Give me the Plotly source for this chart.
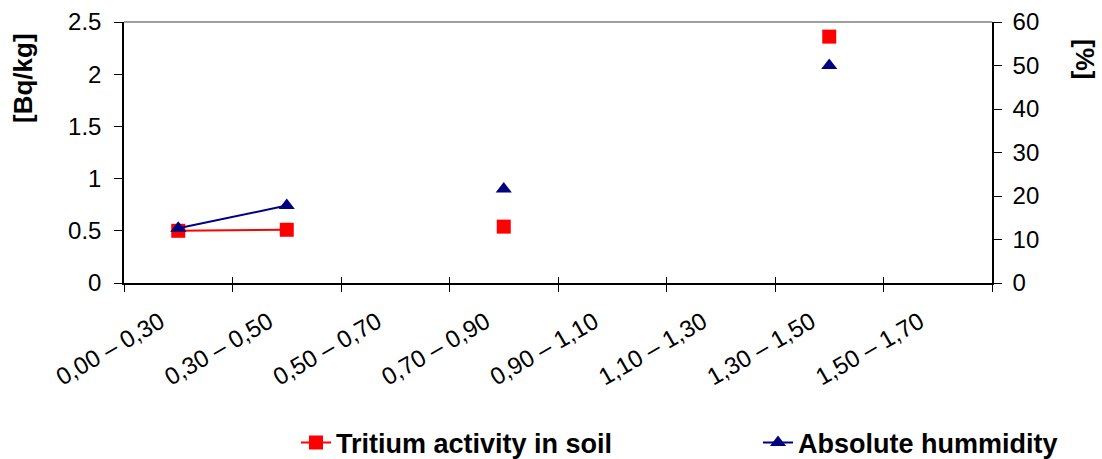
import plotly.graph_objects as go

# Depth intervals (m)
depths = ["0,00 – 0,30", "0,30 – 0,50", "0,50 – 0,70", "0,70 – 0,90",
          "0,90 – 1,10", "1,10 – 1,30", "1,30 – 1,50", "1,50 – 1,70"]

# Tritium activity in soil [Bq/kg]
tritium = [0.50, 0.51, None, 0.54, None, None, 2.36, None]

# Absolute humidity [%]
humidity = [12.6, 17.8, None, 21.6, None, None, 50.0, None]

left_ticks = [0, 0.5, 1, 1.5, 2, 2.5]
left_labels = ["0", "0.5", "1", "1.5", "2", "2.5"]
right_ticks = [0, 10, 20, 30, 40, 50, 60]

FONT = "Liberation Sans, Arial, sans-serif"
RED = "#FF0000"
NAVY = "#000080"

# plot area in pixels
L, R, T, B = 124, 992, 22, 283
W, H = R - L, B - T

n = len(depths)
boundaries = [i - 0.5 for i in range(n + 1)]

fig = go.Figure()

fig.add_trace(go.Scatter(
    x=depths, y=tritium, name="Tritium activity in soil",
    mode="lines+markers", connectgaps=False, legend="legend",
    line=dict(color=RED, width=2),
    marker=dict(symbol="square", size=14, color=RED),
))

fig.add_trace(go.Scatter(
    x=depths, y=humidity, name="Absolute hummidity",
    mode="lines+markers", connectgaps=False, yaxis="y2", legend="legend2",
    line=dict(color=NAVY, width=2),
    marker=dict(symbol="triangle-up", size=14, color=NAVY),
))

# empty trace carrying the overlay axis (inner half of crossing ticks)
fig.add_trace(go.Scatter(
    x=list(range(n)), y=[None] * n, xaxis="x2", mode="markers",
    showlegend=False, hoverinfo="skip",
))

axis_font = dict(family=FONT, size=24, color="black")
legend_font = dict(family=FONT, size=27, color="black", weight="bold")

fig.update_layout(
    width=1102, height=459,
    margin=dict(l=L, r=1102 - R, t=T, b=459 - B, autoexpand=False),
    paper_bgcolor="white", plot_bgcolor="white",
    font=dict(family=FONT, color="black"),
    showlegend=True,
    legend=dict(
        orientation="h", x=(296 - L) / W, xanchor="left",
        y=(B - 443) / H, yanchor="middle",
        font=legend_font, bgcolor="rgba(0,0,0,0)",
    ),
    legend2=dict(
        orientation="h", x=(758 - L) / W, xanchor="left",
        y=(B - 443) / H, yanchor="middle",
        font=legend_font, bgcolor="rgba(0,0,0,0)",
    ),
    xaxis=dict(
        type="category", categoryorder="array", categoryarray=depths,
        range=[-0.5, n - 0.5], tickson="boundaries", automargin=False,
        showline=True, linecolor="black", linewidth=1.5,
        ticks="outside", ticklen=7, tickcolor="black", tickwidth=1,
        tickangle=-30, tickfont=axis_font, ticklabelstandoff=14,
        ticklabelshift=-18, showgrid=False, zeroline=False,
    ),
    xaxis2=dict(
        type="linear", range=[-0.5, n - 0.5], tickvals=boundaries,
        automargin=False, overlaying="x", anchor="y", side="bottom",
        showline=False, ticks="inside", ticklen=6, tickcolor="black", tickwidth=1,
        showticklabels=False, showgrid=False, zeroline=False,
    ),
    yaxis=dict(
        range=[0, 2.5], tickvals=left_ticks, ticktext=left_labels, automargin=False,
        showline=True, linecolor="black", linewidth=1.5,
        ticks="outside", ticklen=8, tickcolor="black",
        tickfont=axis_font, ticklabelstandoff=8,
        showgrid=False, zeroline=False,
    ),
    yaxis2=dict(
        range=[0, 60], tickvals=right_ticks, overlaying="y", side="right",
        automargin=False,
        showline=True, linecolor="black", linewidth=1.5,
        ticks="outside", ticklen=8, tickcolor="black",
        tickfont=axis_font, ticklabelstandoff=6,
        showgrid=False, zeroline=False,
    ),
    shapes=[dict(type="line", xref="paper", yref="paper", x0=0, x1=1, y0=1, y1=1,
                 line=dict(color="#808080", width=1.5))],
    annotations=[
        dict(text="<b>[Bq/kg]</b>", xref="paper", yref="paper",
             x=(23 - L) / W, y=(B - 78) / H, xanchor="center", yanchor="middle",
             textangle=-90, showarrow=False, font=dict(family=FONT, size=26, color="black")),
        dict(text="<b>[%]</b>", xref="paper", yref="paper",
             x=(1085 - L) / W, y=(B - 59) / H, xanchor="center", yanchor="middle",
             textangle=90, showarrow=False, font=dict(family=FONT, size=26, color="black")),
    ],
)

fig.write_html("out.html")
